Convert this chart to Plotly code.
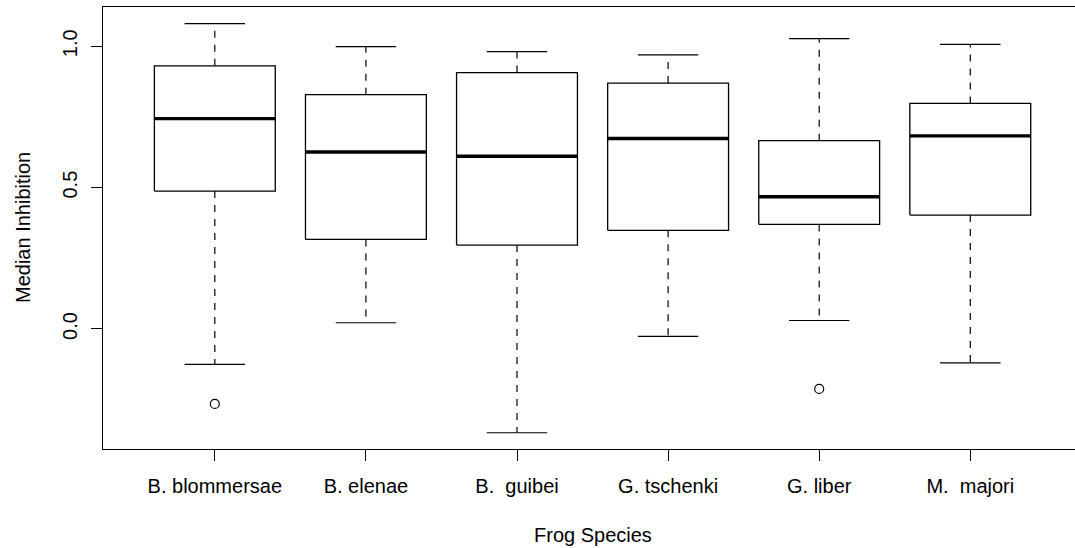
import plotly.graph_objects as go

species = ["B. blommersae", "B. elenae", "B.\u00a0 guibei", "G. tschenki", "G. liber", "M.\u00a0 majori"]
lower_whisker = [-0.125, 0.022, -0.367, -0.026, 0.030, -0.120]
q1 = [0.488, 0.317, 0.297, 0.349, 0.370, 0.403]
median = [0.744, 0.626, 0.611, 0.674, 0.468, 0.683]
q3 = [0.931, 0.829, 0.907, 0.870, 0.666, 0.798]
upper_whisker = [1.080, 0.999, 0.981, 0.970, 1.027, 1.007]
outlier_species = ["B. blommersae", "G. liber"]
outlier_values = [-0.265, -0.212]

y_ticks = [0.0, 0.5, 1.0]
x_title = "Frog Species"
y_title = "Median Inhibition"

HALF_BOX = 0.4
HALF_CAP = 0.2
FONT = "Liberation Sans, Arial, Helvetica, sans-serif"
FS = 20

pos = {s: i + 1 for i, s in enumerate(species)}

wx, wy, cx, cy, bx, by, mx, my = [], [], [], [], [], [], [], []
for i, s in enumerate(species):
    x = pos[s]
    wx += [x, x, None, x, x, None]
    wy += [q3[i], upper_whisker[i], None, q1[i], lower_whisker[i], None]
    cx += [x - HALF_CAP, x + HALF_CAP, None, x - HALF_CAP, x + HALF_CAP, None]
    cy += [upper_whisker[i], upper_whisker[i], None, lower_whisker[i], lower_whisker[i], None]
    bx += [x - HALF_BOX, x + HALF_BOX, x + HALF_BOX, x - HALF_BOX, x - HALF_BOX, None]
    by += [q1[i], q1[i], q3[i], q3[i], q1[i], None]
    mx += [x - HALF_BOX, x + HALF_BOX, None]
    my += [median[i], median[i], None]

fig = go.Figure()
fig.add_trace(go.Scatter(x=wx, y=wy, mode="lines", line=dict(color="black", width=1.2, dash="7px,7px"),
                         hoverinfo="skip", showlegend=False))
fig.add_trace(go.Scatter(x=cx, y=cy, mode="lines", line=dict(color="black", width=1.2),
                         hoverinfo="skip", showlegend=False))
fig.add_trace(go.Scatter(x=bx, y=by, mode="lines", line=dict(color="black", width=1.3),
                         fill="toself", fillcolor="white", hoverinfo="skip", showlegend=False))
fig.add_trace(go.Scatter(x=mx, y=my, mode="lines", line=dict(color="black", width=3.4),
                         hoverinfo="skip", showlegend=False))
fig.add_trace(go.Scatter(x=[pos[s] for s in outlier_species], y=outlier_values, mode="markers",
                         marker=dict(symbol="circle-open", size=9, color="black", line=dict(width=1.2)),
                         showlegend=False))

fig.update_layout(
    width=1075, height=548,
    margin=dict(l=103, r=0, t=7, b=99, autoexpand=False),
    paper_bgcolor="white", plot_bgcolor="white",
    font=dict(family=FONT, size=FS, color="black"),
    showlegend=False,
    annotations=[
        dict(text=x_title, xref="paper", yref="paper", x=(593 - 103) / (1075 - 103), y=0,
             xanchor="center", yanchor="middle", yshift=-86, showarrow=False,
             font=dict(family=FONT, size=FS, color="black")),
        dict(text=y_title, xref="paper", yref="paper", x=0, y=0.5, textangle=-90,
             xanchor="center", yanchor="middle", xshift=-80, showarrow=False,
             font=dict(family=FONT, size=FS, color="black")),
    ],
)
fig.update_xaxes(
    range=[0.26, 6.693], automargin=False,
    tickmode="array", tickvals=[pos[s] for s in species], ticktext=species,
    showgrid=False, zeroline=False,
    showline=True, mirror=True, linecolor="black", linewidth=1.3,
    ticks="outside", ticklen=11, tickwidth=1, tickcolor="black",
    ticklabelstandoff=8,
)
fig.update_yaxes(
    range=[-0.4245, 1.139], automargin=False,
    tickmode="array", tickvals=y_ticks, ticktext=[f"{v:.1f}" for v in y_ticks],
    tickangle=-90,
    showgrid=False, zeroline=False,
    showline=True, mirror=False, linecolor="black", linewidth=1.3,
    ticks="outside", ticklen=11, tickwidth=1, tickcolor="black",
    ticklabelstandoff=6,
)

fig.write_html("out.html", config={"displayModeBar": False},
               post_script="document.body.style.margin='0';document.body.style.overflow='hidden';")
